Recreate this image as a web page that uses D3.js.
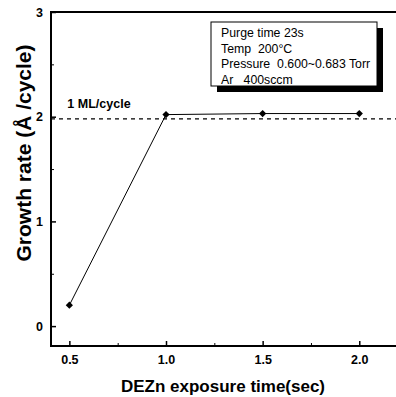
<!DOCTYPE html>
<html><head><meta charset="utf-8">
<script src="https://cdn.jsdelivr.net/npm/d3@7/dist/d3.min.js"></script>
<style>
html,body{margin:0;padding:0;background:#fff;}
svg{display:block;font-family:"Liberation Sans",Arial,Helvetica,sans-serif;}
</style></head>
<body><svg id="chart" width="396" height="397"></svg>
<script>
const exposure = [0.5, 1.0, 1.5, 2.0];
const growthRate = [0.2, 2.02, 2.03, 2.03];
const monolayer = 1.98;
const monolayerLabel = "1 ML/cycle";
const xTicks = [0.5, 1.0, 1.5, 2.0];
const xMinorTicks = [0.75, 1.25, 1.75];
const yTicks = [0, 1, 2, 3];
const yMinorTicks = [0.5, 1.5, 2.5];
const legendLines = ["Purge time 23s", "Temp  200\u00B0C", "Pressure  0.600~0.683 Torr", "Ar   400sccm"];
const xTitle = "DEZn exposure time(sec)";
const yTitle = "Growth rate (\u00C5 /cycle)";

const svg = d3.select("#chart");
const L = 51, R = 396, T = 12, B = 346;
const x = d3.scaleLinear().domain([0.405, 2.19]).range([L, R]);
const y = d3.scaleLinear().domain([-0.19, 3]).range([B, T]);

// frame lines
const frame = svg.append("g").attr("stroke", "#000").attr("stroke-width", 2).attr("fill", "none");
frame.append("line").attr("x1", L).attr("x2", L).attr("y1", T - 1).attr("y2", B + 1);
frame.append("line").attr("x1", L - 1).attr("x2", R).attr("y1", B).attr("y2", B);
frame.append("line").attr("x1", L - 1).attr("x2", R).attr("y1", T).attr("y2", T);

// y axis
const yAxis = svg.append("g").attr("transform", `translate(${L},0)`)
  .call(d3.axisLeft(y).tickValues(yTicks).tickFormat(d3.format("d")).tickSize(-5).tickSizeOuter(0).tickPadding(8));
yAxis.select(".domain").remove();
yAxis.selectAll(".tick line").attr("stroke-width", 1.5);
yAxis.selectAll(".tick text").attr("font-size", 12.5).attr("font-weight", "bold")
  .attr("font-family", "Liberation Sans, Arial, sans-serif").attr("fill", "#000");
const yMinor = svg.append("g").attr("transform", `translate(${L},0)`)
  .call(d3.axisLeft(y).tickValues(yMinorTicks).tickFormat("").tickSize(-3).tickSizeOuter(0));
yMinor.select(".domain").remove();

// x axis
const xAxis = svg.append("g").attr("transform", `translate(0,${B})`)
  .call(d3.axisBottom(x).tickValues(xTicks).tickFormat(d3.format(".1f")).tickSize(-5).tickSizeOuter(0).tickPadding(9));
xAxis.select(".domain").remove();
xAxis.selectAll(".tick line").attr("stroke-width", 1.5);
xAxis.selectAll(".tick text").attr("font-size", 12.5).attr("font-weight", "bold")
  .attr("font-family", "Liberation Sans, Arial, sans-serif").attr("fill", "#000");
const xMinor = svg.append("g").attr("transform", `translate(0,${B})`)
  .call(d3.axisBottom(x).tickValues(xMinorTicks).tickFormat("").tickSize(-3).tickSizeOuter(0));
xMinor.select(".domain").remove();

// dashed monolayer line
svg.append("line").attr("x1", L).attr("x2", R).attr("y1", y(monolayer)).attr("y2", y(monolayer))
  .attr("stroke", "#000").attr("stroke-width", 1.2).attr("stroke-dasharray", "4,4");
svg.append("text").attr("x", x(0.5) - 2).attr("y", y(monolayer) - 11)
  .attr("font-size", 12.5).attr("font-weight", "bold").text(monolayerLabel);

// data line
const pts = exposure.map((e, i) => [e, growthRate[i]]);
svg.append("path").datum(pts)
  .attr("d", d3.line().x(d => x(d[0])).y(d => y(d[1])))
  .attr("fill", "none").attr("stroke", "#000").attr("stroke-width", 1);
svg.selectAll(".pt").data(pts).enter().append("path")
  .attr("d", d3.symbol().type(d3.symbolSquare).size(26))
  .attr("transform", d => `translate(${x(d[0])},${y(d[1])}) rotate(45)`)
  .attr("fill", "#000");

// legend box with shadow
const bx = 211, by = 22, bw = 166, bh = 64, sh = 6;
svg.append("rect").attr("x", bx + sh).attr("y", by + sh).attr("width", bw).attr("height", bh).attr("fill", "#000");
svg.append("rect").attr("x", bx).attr("y", by).attr("width", bw).attr("height", bh)
  .attr("fill", "#fff").attr("stroke", "#000").attr("stroke-width", 1);
svg.append("g").selectAll("text").data(legendLines).enter().append("text")
  .attr("x", bx + 10).attr("y", (d, i) => by + 15 + i * 15.5)
  .attr("font-size", 12.3).style("white-space", "pre").attr("xml:space", "preserve")
  .text(d => d);

// titles
svg.append("text").attr("x", 223).attr("y", 392).attr("text-anchor", "middle")
  .attr("font-size", 17).attr("font-weight", "bold").text(xTitle);
svg.append("text").attr("transform", "translate(31,153) rotate(-90)").attr("text-anchor", "middle")
  .attr("font-size", 21).attr("font-weight", "bold").text(yTitle);
</script></body></html>
